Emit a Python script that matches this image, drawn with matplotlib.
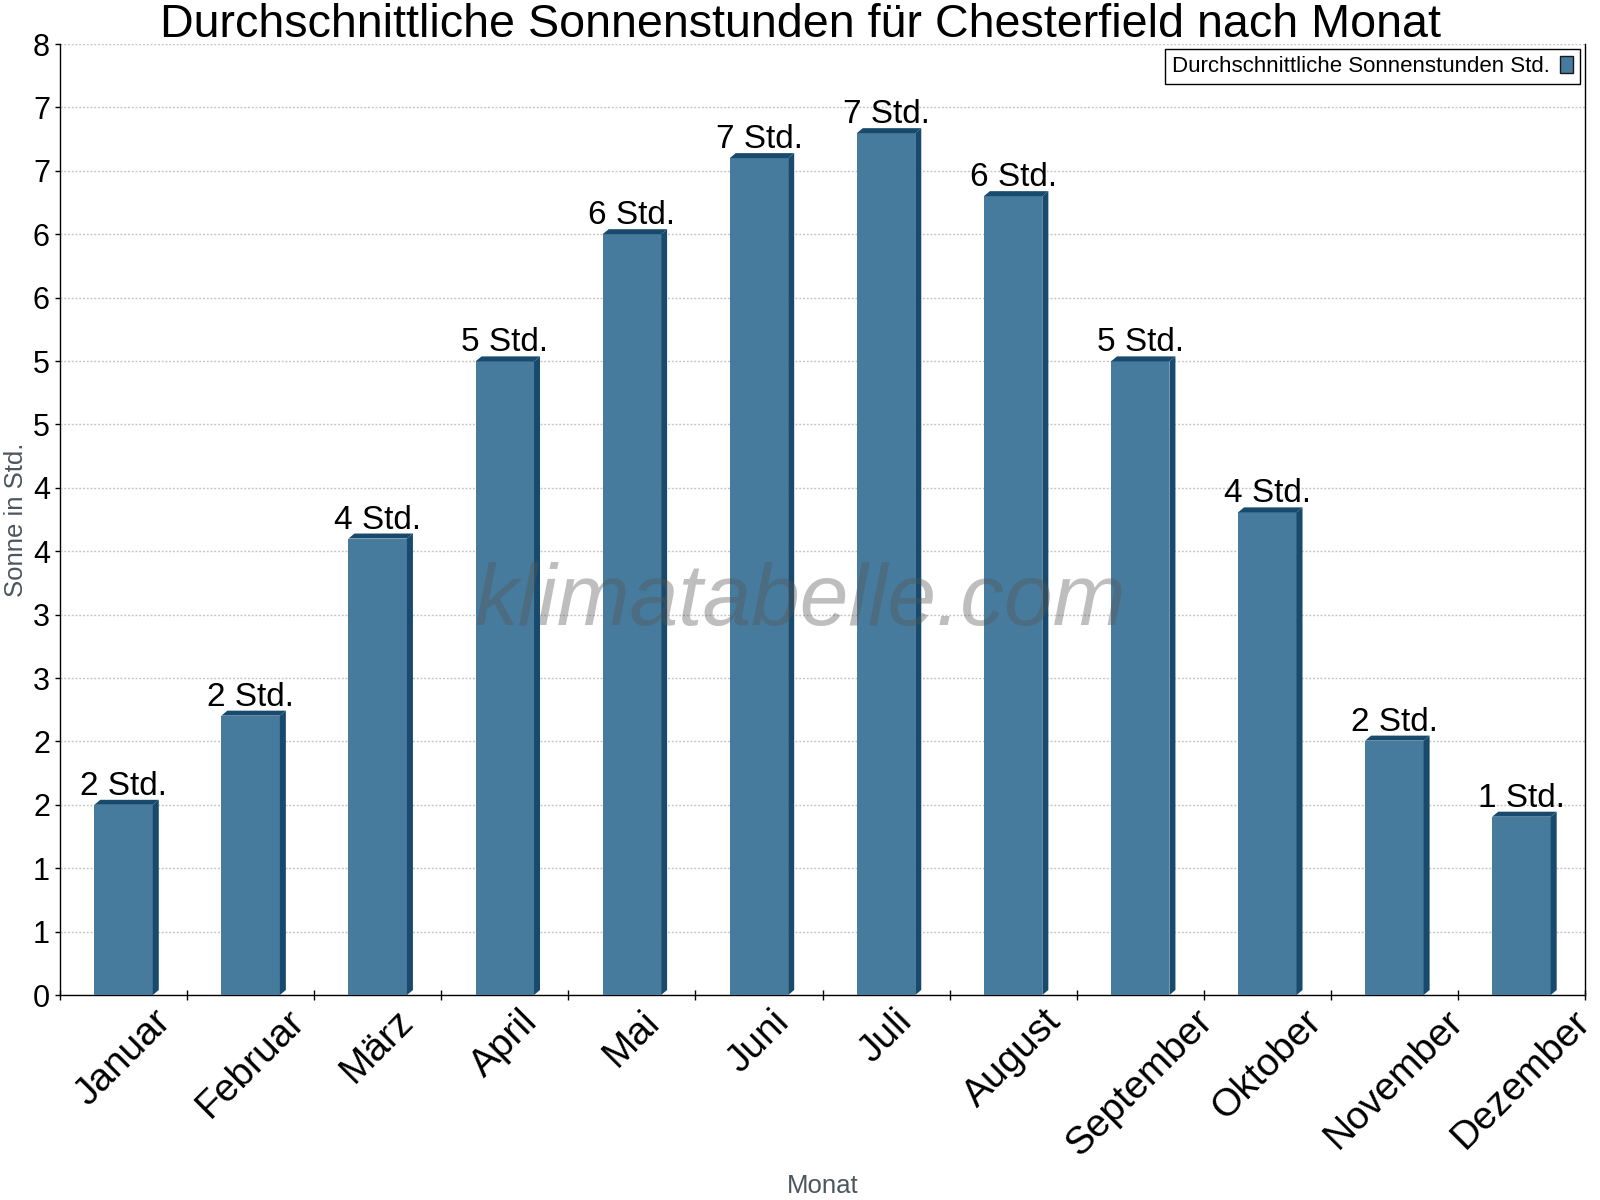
import numpy as np
import matplotlib.pyplot as plt
from matplotlib.patches import Polygon, Patch

plt.rcParams['font.family'] = ['Liberation Sans', 'DejaVu Sans']

monate = ["Januar", "Februar", "März", "April", "Mai", "Juni", "Juli",
          "August", "September", "Oktober", "November", "Dezember"]
sonnenstunden = [1.6, 2.35, 3.84, 5.33, 6.4, 7.04, 7.25, 6.72, 5.33, 4.06, 2.14, 1.5]
beschriftung = [2, 2, 4, 5, 6, 7, 7, 6, 5, 4, 2, 1]

farbe_vorne = '#467b9d'
farbe_dunkel = '#174a6c'

fig = plt.figure(figsize=(16, 12), dpi=100)
ax = fig.add_axes([0.0375, 0.17083, 0.953125, 0.7925])

n = len(monate)
x = np.arange(n) + 0.5
breite = 0.46
# 3D-Versatz (ca. 6px nach rechts, 5px nach oben)
dx = 6 * n / 1525
dy = 5 * 8 / 951

ax.bar(x, sonnenstunden, width=breite, color=farbe_vorne, zorder=3)
for i in range(n):
    x0 = x[i] - breite / 2
    x1 = x[i] + breite / 2
    h = sonnenstunden[i]
    seite = Polygon([(x1, 0), (x1, h), (x1 + dx, h + dy), (x1 + dx, dy)],
                    closed=True, facecolor=farbe_dunkel, edgecolor='none', zorder=3)
    oben = Polygon([(x0, h), (x0 + dx, h + dy), (x1 + dx, h + dy), (x1, h)],
                   closed=True, facecolor=farbe_dunkel, edgecolor='none', zorder=3)
    ax.add_patch(seite)
    ax.add_patch(oben)
    ax.annotate(f"{beschriftung[i]} Std.", (x[i], h), xytext=(0, 7.2),
                textcoords='offset points', ha='center', va='baseline',
                fontsize=24, color='black', zorder=5)

ax.set_xlim(0, n)
ax.set_ylim(0, 8)

yticks = np.linspace(0, 8, 16)
ax.set_yticks(yticks)
ax.set_yticklabels([f"{v:.0f}" for v in yticks], fontsize=22)
ax.tick_params(axis='y', length=3.6, width=1, pad=3.6)

ax.set_xticks(x)
ax.set_xticklabels(monate, fontsize=28, rotation=45, ha='center')
ax.tick_params(axis='x', which='major', length=0, pad=6)
ax.set_xticks(np.arange(n + 1), minor=True)
ax.tick_params(axis='x', which='minor', length=7, width=1, direction='inout')

ax.yaxis.grid(True, color='#c4c4c4', linestyle=(0, (1.4, 1.3)), linewidth=1, zorder=0)
ax.set_axisbelow(True)
ax.spines['top'].set_visible(False)
for s in ['left', 'bottom', 'right']:
    ax.spines[s].set_linewidth(1)
    ax.spines[s].set_color('black')

fig.text(0.5, 1 - 37 / 1200, "Durchschnittliche Sonnenstunden für Chesterfield nach Monat",
         ha='center', va='baseline', fontsize=33.6, color='black')
fig.text(0.5140, 1 - 1193 / 1200, "Monat", ha='center', va='baseline',
         fontsize=18.5, color='#4d555d')
fig.text(16 / 1600, 1 - 519.5 / 1200, "Sonne in Std.", ha='center', va='center',
         rotation=90, fontsize=18.5, color='#4d555d')

# Wasserzeichen
fig.text(0.5, 1 - 625 / 1200, "klimatabelle.com", ha='center', va='baseline',
         fontsize=63, style='italic', color='#555555', alpha=0.38, zorder=10)

griff = Patch(facecolor=farbe_vorne, edgecolor='#1a1a1a', linewidth=1)
leg = ax.legend([griff], ["Durchschnittliche Sonnenstunden Std."], loc='upper right',
                bbox_to_anchor=(1580 / 1600, 1 - 49 / 1200), bbox_transform=fig.transFigure,
                borderaxespad=0, markerfirst=False, fontsize=16, fancybox=False,
                framealpha=1, edgecolor='black', handlelength=0.6, handleheight=0.8,
                handletextpad=0.45, borderpad=0.3)
leg.get_frame().set_linewidth(1)

plt.savefig("out.png", dpi=100)
